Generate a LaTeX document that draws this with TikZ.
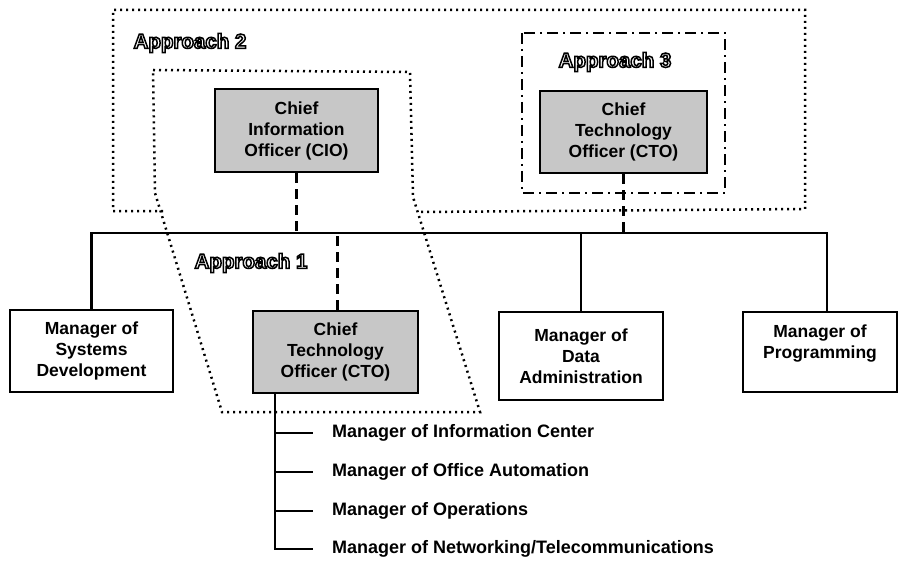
\documentclass[tikz,border=0pt]{standalone}
\usepackage{fontspec}
\setmainfont{Liberation Sans}
% hollow letters: stroke-only text rendering mode
\newcommand{\approachlabel}[1]{\special{pdf:literal direct 1 Tr 1.5 w}#1\special{pdf:literal direct 0 Tr}}

\begin{document}
\begin{tikzpicture}[x=1pt, y=-1pt, rectangle, font=\bfseries,
  officebox/.style={draw=black, line width=2.8pt, fill=black!22, align=center, minimum width=164pt, minimum height=82pt, font=\fontsize{17.5}{21}\selectfont\bfseries},
  mgrbox/.style={draw=black, line width=2.8pt, fill=white, align=center, minimum width=164pt, minimum height=82pt, font=\fontsize{17.5}{21}\selectfont\bfseries},
  item/.style={anchor=west, inner xsep=0pt, font=\fontsize{18}{20}\selectfont\bfseries},
  orgline/.style={line width=2.8pt},
  dashline/.style={line width=3pt, dash pattern=on 10pt off 6pt},
  approachdot/.style={line width=2.5pt, dash pattern=on 2pt off 4pt},
  approachdashdot/.style={line width=2.5pt, dash pattern=on 11pt off 5pt on 2pt off 5pt},
  approachtext/.style={font=\fontsize{20.5}{22}\selectfont\bfseries}]

\useasboundingbox (0,0) rectangle (899,564);

% approach outlines
\draw[approachdot] (163,211) -- (113,211) -- (113,10) -- (805,10) -- (805,209) -- (420,212);
\draw[approachdot] (153,70) -- (410,72) -- (413,197) -- (480,412) -- (222,412) -- (155,193) -- cycle;
\draw[approachdashdot] (522,33) rectangle (725,193);

\node[approachtext] (approach2) at (190,43) {\approachlabel{Approach 2}};
\node[approachtext] (approach3) at (615,62) {\approachlabel{Approach 3}};
\node[approachtext] (approach1) at (251,263) {\approachlabel{Approach 1}};

\node[officebox, minimum width=163pt, minimum height=83pt] (cio) at (296.5,130.5) {Chief\\Information\\Officer (CIO)};
\node[officebox, minimum width=167pt] (ctoright) at (623.5,132) {Chief\\Technology\\Officer (CTO)};
\node[officebox, minimum width=165pt] (ctobelow) at (335.5,352) {Chief\\Technology\\Officer (CTO)};

\node[mgrbox, minimum width=163pt] (sysdev) at (91.5,351) {Manager of\\Systems\\Development};
\node[mgrbox, minimum height=88pt] (dataadm) at (581,356) {Manager of\\Data\\Administration};
\node[mgrbox, minimum width=154pt, minimum height=80pt] (prog) at (820,352) {Manager of\\Programming\\\mbox{}};

\coordinate (bus) at (827,233);
\coordinate (stem) at (275,393);

\node[item] (infocenter) at (332,433) {Manager of Information Center};
\node[item] (officeauto) at (332,472) {Manager of Office Automation};
\node[item] (operations) at (332,511) {Manager of Operations};
\node[item] (networking) at (332,549) {Manager of Networking/Telecommunications};

\draw[orgline] (sysdev.north) |- (bus) -- (bus |- prog.north);
\draw[orgline] (dataadm.north) -- (dataadm.north |- bus);
\draw[dashline] (cio.south) -- (cio.south |- bus);
\draw[dashline] (ctoright.south) -- (ctoright.south |- bus);
\draw[dashline] ([xshift=1.5pt]ctobelow.north) -- ([xshift=1.5pt]ctobelow.north |- bus);

\draw[orgline, shorten >=19pt] (stem) |- (networking.west);
\draw[orgline, shorten >=19pt] (stem |- infocenter.west) -- (infocenter.west);
\draw[orgline, shorten >=19pt] (stem |- officeauto.west) -- (officeauto.west);
\draw[orgline, shorten >=19pt] (stem |- operations.west) -- (operations.west);

\end{tikzpicture}
\end{document}
